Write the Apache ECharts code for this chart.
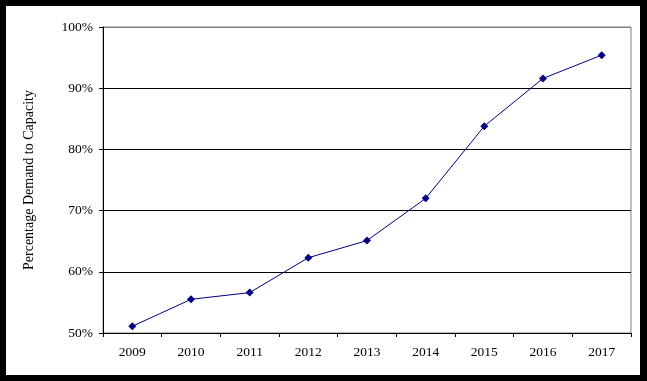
<!DOCTYPE html>
<html>
<head>
<meta charset="utf-8">
<script src="https://cdn.jsdelivr.net/npm/echarts@6/dist/echarts.min.js"></script>
<style>
html,body{margin:0;padding:0;background:#000;width:647px;height:381px;overflow:hidden;}
#c{position:absolute;left:6px;top:6px;width:634px;height:369px;background:#fff;}
</style>
</head>
<body>
<div id="c"></div>
<script>
const years = ['2009','2010','2011','2012','2013','2014','2015','2016','2017'];
const demandPct = [51.1, 55.5, 56.6, 62.3, 65.1, 72.0, 83.8, 91.6, 95.4];
const yTicks = [50, 60, 70, 80, 90, 100];
const yTitle = 'Percentage Demand to Capacity';

const font = "'Liberation Serif','Times New Roman',serif";
const chart = echarts.init(document.getElementById('c'), null, {renderer:'canvas'});
chart.setOption({
  animation: false,
  backgroundColor: '#fff',
  grid: {left: 97, top: 21, right: 9, bottom: 42, show: true, borderColor: '#808080', borderWidth: 1, backgroundColor: 'transparent'},
  xAxis: {
    type: 'category',
    data: years,
    boundaryGap: true,
    axisLine: {lineStyle: {color: '#000', width: 1}},
    axisTick: {show: true, length: 4, lineStyle: {color: '#000'}},
    axisLabel: {color: '#000', fontFamily: font, fontSize: 13.5, margin: 12}
  },
  yAxis: {
    type: 'value',
    min: yTicks[0],
    max: yTicks[yTicks.length - 1],
    interval: 10,
    name: yTitle,
    nameLocation: 'middle',
    nameGap: 67,
    nameTextStyle: {color: '#000', fontFamily: font, fontSize: 14},
    axisLine: {show: true, lineStyle: {color: '#000', width: 1}},
    axisTick: {show: true, length: 4, lineStyle: {color: '#000'}},
    axisLabel: {color: '#000', fontFamily: font, fontSize: 13.5, margin: 10, formatter: v => v + '%'},
    splitLine: {show: true, lineStyle: {color: ['#000','#000','#000','#000','#000','#808080'], width: 1}}
  },
  series: [{
    type: 'line',
    data: demandPct,
    symbol: 'diamond',
    symbolSize: 8,
    lineStyle: {color: '#000080', width: 1},
    itemStyle: {color: '#000080'}
  }]
});
</script>
</body>
</html>
